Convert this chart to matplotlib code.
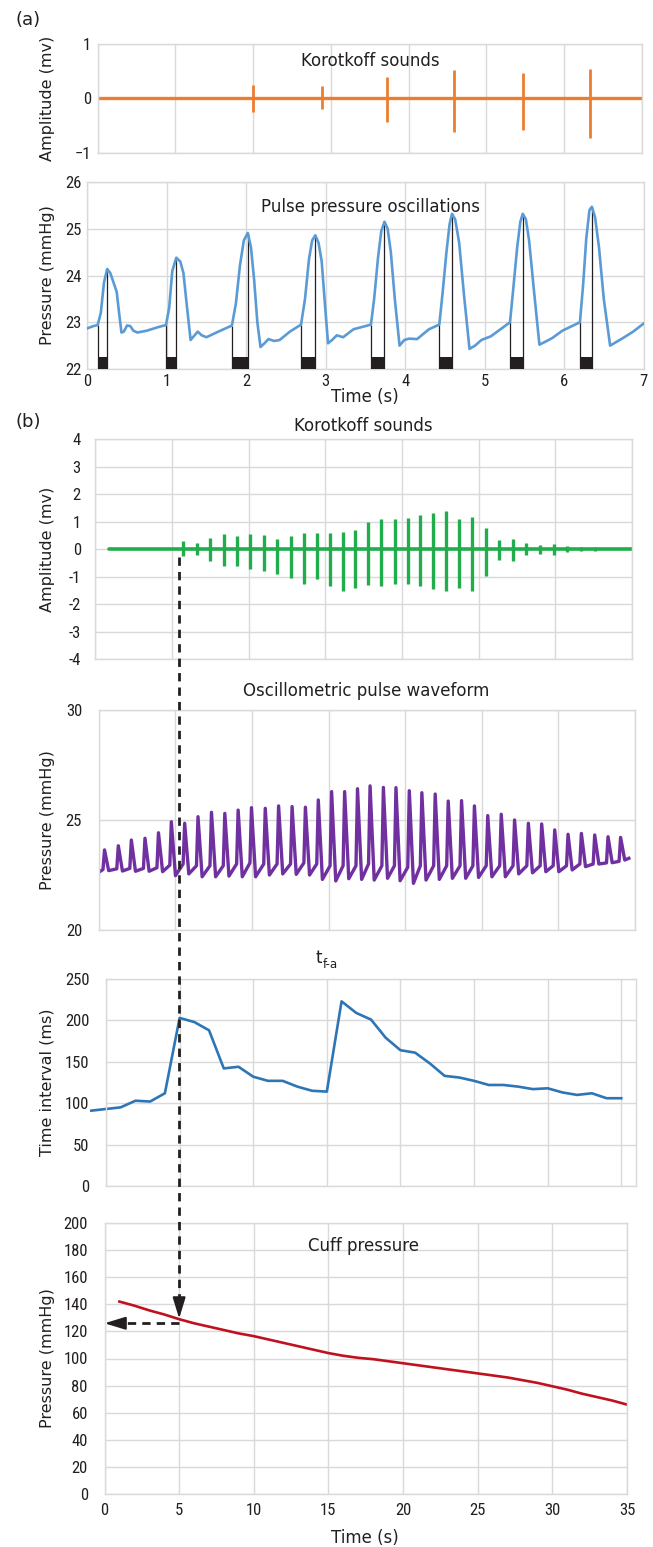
import matplotlib
matplotlib.use("Agg")
import matplotlib.pyplot as plt
from matplotlib import font_manager
from matplotlib.lines import Line2D

# ---------------- data ----------------
# (a) Korotkoff sounds, 0-7 s
a1_span = [0.0, 7.0]
a1_t = [2.00, 2.88, 3.72, 4.58, 5.47, 6.33]
a1_pos = [0.25, 0.23, 0.39, 0.53, 0.46, 0.54]
a1_neg = [-0.26, -0.20, -0.43, -0.62, -0.59, -0.73]

# (a) Pulse pressure oscillations
a2_t = [0.00, 0.08, 0.13, 0.17, 0.21, 0.25, 0.29, 0.33, 0.37, 0.40, 0.43, 0.46, 0.50, 0.54, 0.58, 0.63, 0.75, 0.90,
        0.99, 1.03, 1.07, 1.12, 1.17, 1.21, 1.25, 1.30, 1.34, 1.39, 1.44, 1.50, 1.65,
        1.82, 1.87, 1.92, 1.97, 2.02, 2.06, 2.10, 2.14, 2.18, 2.23, 2.28, 2.35, 2.42, 2.55,
        2.69, 2.74, 2.79, 2.83, 2.87, 2.91, 2.95, 2.99, 3.03, 3.08, 3.14, 3.22, 3.35,
        3.57, 3.61, 3.66, 3.70, 3.74, 3.78, 3.82, 3.87, 3.93, 3.99, 4.05, 4.15, 4.30,
        4.43, 4.47, 4.52, 4.56, 4.59, 4.63, 4.68, 4.74, 4.81, 4.88, 4.96, 5.08, 5.20,
        5.32, 5.36, 5.41, 5.45, 5.48, 5.52, 5.56, 5.62, 5.69, 5.76, 5.85, 5.98,
        6.20, 6.24, 6.28, 6.32, 6.35, 6.39, 6.44, 6.50, 6.58, 6.66, 6.74, 6.87, 7.00]
a2_p = [22.87, 22.92, 22.94, 23.20, 23.85, 24.14, 24.05, 23.85, 23.65, 23.20, 22.78, 22.80, 22.93, 22.92, 22.82, 22.78, 22.82, 22.90,
        22.94, 23.30, 24.10, 24.38, 24.30, 24.05, 23.40, 22.62, 22.70, 22.80, 22.72, 22.68, 22.80,
        22.93, 23.40, 24.20, 24.75, 24.91, 24.60, 23.90, 23.00, 22.47, 22.55, 22.64, 22.60, 22.62, 22.80,
        22.95, 23.50, 24.35, 24.75, 24.86, 24.70, 24.30, 23.40, 22.55, 22.62, 22.72, 22.68, 22.85,
        22.95, 23.50, 24.40, 24.95, 25.15, 25.00, 24.50, 23.50, 22.50, 22.62, 22.65, 22.64, 22.85,
        22.95, 23.60, 24.50, 25.10, 25.32, 25.20, 24.70, 23.60, 22.43, 22.50, 22.62, 22.70, 22.85,
        23.00, 23.70, 24.60, 25.15, 25.32, 25.20, 24.75, 23.70, 22.52, 22.58, 22.66, 22.82,
        23.00, 23.80, 24.80, 25.40, 25.47, 25.25, 24.60, 23.50, 22.50, 22.58, 22.66, 22.80, 22.97]
a2_foot_t = [0.13, 0.99, 1.82, 2.69, 3.57, 4.43, 5.32, 6.20]
a2_foot_p = [22.94, 22.94, 22.93, 22.95, 22.95, 22.95, 23.00, 23.00]
a2_peak_t = [0.25, 1.12, 2.02, 2.87, 3.74, 4.59, 5.48, 6.35]
a2_peak_p = [24.14, 24.38, 24.91, 24.86, 25.15, 25.32, 25.32, 25.47]

# (b) Korotkoff sounds, 0-35 s
b1_span = [0.9, 35.2]
b1_t = [5.71, 6.61, 7.49, 8.36, 9.23, 10.11, 10.98, 11.86, 12.76, 13.60, 14.45, 15.30, 16.12, 16.94,
        17.81, 18.63, 19.51, 20.36, 21.17, 22.05, 22.87, 23.74, 24.59, 25.46, 26.33, 27.24, 28.11,
        28.99, 29.89, 30.79, 31.66, 32.56]
b1_pos = [0.28, 0.23, 0.40, 0.54, 0.47, 0.54, 0.50, 0.37, 0.46, 0.58, 0.59, 0.59, 0.63, 0.70,
          0.99, 1.10, 1.08, 1.14, 1.22, 1.32, 1.39, 1.08, 1.17, 0.77, 0.34, 0.37, 0.23,
          0.16, 0.19, 0.12, 0.08, 0.08]
b1_neg = [-0.25, -0.20, -0.42, -0.63, -0.60, -0.74, -0.81, -0.90, -1.05, -1.26, -1.08, -1.34, -1.52, -1.40,
          -1.32, -1.34, -1.27, -1.28, -1.34, -1.44, -1.51, -1.40, -1.51, -0.99, -0.39, -0.45, -0.23,
          -0.17, -0.20, -0.10, -0.08, -0.08]

# (b) Oscillometric pulse waveform (per beat)
b2_span = [0.0, 34.6]
b2_span_p = [22.62, 23.26]
b2_peak_t = [0.38, 1.28, 2.13, 3.02, 3.90, 4.74, 5.61, 6.48, 7.36, 8.23, 9.10, 9.97, 10.87, 11.74,
             12.62, 13.49, 14.33, 15.20, 16.05, 16.89, 17.71, 18.58, 19.40, 20.27, 21.09, 21.96,
             22.81, 23.68, 24.52, 25.39, 26.27, 27.14, 28.04, 28.91, 29.76, 30.63, 31.50, 32.37,
             33.24, 34.06]
b2_peak = [23.64, 23.83, 24.09, 24.17, 24.42, 24.92, 24.85, 25.15, 25.35, 25.30, 25.45, 25.56, 25.53, 25.64,
           25.61, 25.58, 25.91, 26.29, 26.29, 26.42, 26.55, 26.48, 26.47, 26.33, 26.24, 26.18,
           25.86, 25.88, 25.64, 25.20, 25.26, 25.00, 24.85, 24.82, 24.55, 24.35, 24.39, 24.32,
           24.24, 24.21]
b2_foot = [22.75, 22.78, 22.80, 22.80, 22.83, 22.95, 23.00, 22.92, 22.92, 22.92, 23.00, 23.05, 23.00, 23.00,
           23.00, 23.05, 23.00, 22.92, 22.92, 22.92, 23.00, 22.92, 22.92, 22.85, 22.92, 22.92,
           22.92, 22.92, 22.92, 22.92, 22.92, 22.92, 22.92, 22.92, 22.92, 22.92, 23.00, 23.00,
           23.05, 23.12]
b2_trough = [22.70, 22.68, 22.67, 22.67, 22.65, 22.47, 22.55, 22.42, 22.42, 22.45, 22.42, 22.42, 22.50, 22.55,
             22.53, 22.50, 22.30, 22.23, 22.33, 22.30, 22.27, 22.35, 22.24, 22.12, 22.27, 22.30,
             22.35, 22.35, 22.39, 22.42, 22.42, 22.55, 22.60, 22.65, 22.65, 22.73, 22.88, 23.00,
             23.06, 23.18]

# (b) t_f-a
b3_t = [-1, 0, 1, 2, 3, 4, 5, 6, 7, 8, 9, 10, 11, 12, 13, 14, 15, 16, 17, 18, 19, 20,
        21, 22, 23, 24, 25, 26, 27, 28, 29, 30, 31, 32, 33, 34, 35]
b3_v = [91, 93, 95, 103, 102, 112, 203, 198, 188, 142, 144, 132, 127, 127, 120, 115, 114, 223, 209, 201, 179, 164,
        161, 148, 133, 131, 127, 122, 122, 120, 117, 118, 113, 110, 112, 106, 106]

# (b) Cuff pressure
b4_t = [1, 2, 3, 4, 5, 6, 7, 8, 9, 10, 11, 12, 13, 14, 15, 16, 17, 18, 19, 20,
        21, 22, 23, 24, 25, 26, 27, 28, 29, 30, 31, 32, 33, 34, 35]
b4_p = [142, 139, 135.5, 132.5, 129, 126, 123.5, 121, 118.5, 116.5, 114, 111.5, 109, 106.5, 104, 102, 100.5, 99.5, 98, 96.5,
        95, 93.5, 92, 90.5, 89, 87.5, 86, 84, 82, 79.5, 77, 74, 71.5, 69, 66]

# SBP read-off
sbp_t = 5
sbp_p = 129.5
sbp_read = 126

# ---------------- fonts ----------------
names = {f.name for f in font_manager.fontManager.ttflist}
narrow = None
for cand in ["Liberation Sans Narrow", "Roboto Condensed", "DejaVu Sans"]:
    if cand in names:
        narrow = cand
        break
plt.rcParams["font.family"] = [narrow, "DejaVu Sans"]
LABEL_FONT = ["DejaVu Sans"]

W, H = 653, 1547
fig = plt.figure(figsize=(W / 100, H / 100), dpi=100)
fig.patch.set_facecolor("white")

GRID = "#D9D9D9"
TXT = "#231F20"


def add_ax(l, t, r, b):
    return fig.add_axes([l / W, 1 - b / H, (r - l) / W, (b - t) / H])


def style(ax, xpad=4, ypad=4):
    for s in ax.spines.values():
        s.set_color(GRID)
        s.set_linewidth(1.0)
    ax.grid(True, color=GRID, lw=1.0)
    ax.set_axisbelow(True)
    ax.tick_params(axis="x", length=0, labelsize=12, colors=TXT, pad=xpad)
    ax.tick_params(axis="y", length=0, labelsize=12, colors=TXT, pad=ypad)


def ftext(x, y, s, **kw):
    kw.setdefault("ha", "center")
    kw.setdefault("va", "center")
    kw.setdefault("color", TXT)
    return fig.text(x / W, 1 - y / H, s, **kw)


def ylab(y, s):
    ftext(47.5, y, s, rotation=90, fontsize=11.5, family=LABEL_FONT)


# ---- (a) top: Korotkoff sounds ----
ax = add_ax(97.5, 44, 642, 152.7)
style(ax, ypad=4.5)
ax.set_xlim(0, 7)
ax.set_ylim(-1, 1)
ax.set_xticks(range(0, 8))
ax.set_xticklabels([])
ax.set_yticks([-1, 0, 1])
ax.set_yticklabels(["\u22121", "0", "1"])
ax.plot(a1_span, [0, 0], color="#ED7D31", lw=2.4, solid_capstyle="butt")
ax.vlines(a1_t, a1_neg, a1_pos, color="#ED7D31", lw=2.0)
ftext(370, 61, "Korotkoff sounds", fontsize=12, family=LABEL_FONT)
ylab(98, "Amplitude (mv)")

# ---- (a) bottom: pulse pressure ----
ax = add_ax(87.3, 182, 643.5, 369)
style(ax, xpad=3.5, ypad=4)
ax.set_xlim(0, 7)
ax.set_ylim(22, 26)
ax.set_xticks(range(0, 8))
ax.set_yticks([22, 23, 24, 25, 26])
widths = [p - f for p, f in zip(a2_peak_t, a2_foot_t)]
ax.bar(a2_foot_t, [0.25] * len(a2_foot_t), width=widths, bottom=22, align="edge",
       color="#231F20", zorder=3)
ax.vlines(a2_foot_t, 22, a2_foot_p, color="#231F20", lw=0.9, zorder=3)
ax.vlines(a2_peak_t, 22, a2_peak_p, color="#231F20", lw=0.9, zorder=3)
ax.plot(a2_t, a2_p, color="#5B9BD5", lw=1.9, zorder=4)
ftext(370, 207, "Pulse pressure oscillations", fontsize=12, family=LABEL_FONT)
ylab(275.5, "Pressure (mmHg)")
ftext(365, 397, "Time (s)", fontsize=12, family=LABEL_FONT)

ftext(28, 20, "(a)", fontsize=13, family=LABEL_FONT)
ftext(28, 421.7, "(b)", fontsize=13, family=LABEL_FONT)

# ---- (b) Korotkoff sounds ----
axb1 = add_ax(95.4, 439, 632, 659)
style(axb1, ypad=10.5)
axb1.set_xlim(0, 35)
axb1.set_ylim(-4, 4)
axb1.set_xticks(range(0, 36, 5))
axb1.set_xticklabels([])
axb1.set_yticks(range(-4, 5))
axb1.set_yticklabels([str(v) for v in range(-4, 5)])
axb1.plot(b1_span, [0, 0], color="#21AD4B", lw=2.6, solid_capstyle="round")
axb1.vlines(b1_t, b1_neg, b1_pos, color="#21AD4B", lw=2.4)
ftext(363, 426, "Korotkoff sounds", fontsize=12, family=LABEL_FONT)
ylab(549, "Amplitude (mv)")

# ---- (b) Oscillometric pulse waveform ----
ax = add_ax(98.7, 710, 635, 930)
style(ax, ypad=12)
ax.set_xlim(0, 35)
ax.set_ylim(20, 30)
ax.set_xticks(range(0, 36, 5))
ax.set_xticklabels([])
ax.set_yticks([20, 25, 30])
RISE, FALL = 0.10, 0.27
xs = [b2_span[0]]
ys = [b2_span_p[0]]
for t, f, p, tr in zip(b2_peak_t, b2_foot, b2_peak, b2_trough):
    xs += [t - RISE, t, t + FALL]
    ys += [f, p, tr]
xs.append(b2_span[1])
ys.append(b2_span_p[1])
ax.plot(xs, ys, color="#7030A0", lw=2.4, solid_joinstyle="round")
ftext(366.5, 691, "Oscillometric pulse waveform", fontsize=12, family=LABEL_FONT)
ylab(820, "Pressure (mmHg)")

# ---- (b) t_f-a ----
ax = add_ax(106, 979, 636, 1186)
style(ax, ypad=12)
ax.set_xlim(0, 36)
ax.set_ylim(0, 250)
ax.set_xticks(range(0, 36, 5))
ax.set_xticklabels([])
ax.set_yticks(range(0, 251, 50))
ax.plot(b3_t, b3_v, color="#2E75B6", lw=1.9, clip_on=False)
ftext(322.5, 963, "t", fontsize=12, family=LABEL_FONT, ha="right", va="baseline")
ftext(322.5, 968, "f-a", fontsize=8.5, family=LABEL_FONT, ha="left", va="baseline")
ylab(1082.5, "Time interval (ms)")

# ---- (b) Cuff pressure ----
axb4 = add_ax(104.5, 1223, 627, 1494)
style(axb4, xpad=6.5, ypad=12)
axb4.set_xlim(0, 35)
axb4.set_ylim(0, 200)
axb4.set_xticks(range(0, 36, 5))
axb4.set_yticks(range(0, 201, 20))
axb4.plot(b4_t, b4_p, color="#C0111F", lw=1.9)
ftext(364, 1246, "Cuff pressure", fontsize=12, family=LABEL_FONT)
ylab(1358.5, "Pressure (mmHg)")
ftext(365, 1538, "Time (s)", fontsize=12, family=LABEL_FONT)

# ---- dashed read-off arrows ----
DASH = (0, (3.0, 2.2))
inv = fig.transFigure.inverted()
head_len_units = 12.5
top_pt = inv.transform(axb1.transData.transform((0, -0.3)))
bot_pt = inv.transform(axb4.transData.transform((sbp_t, sbp_p + head_len_units)))
fig.add_artist(Line2D([bot_pt[0], bot_pt[0]], [top_pt[1], bot_pt[1]], transform=fig.transFigure,
                      color="#231F20", lw=2.0, linestyle=DASH, zorder=10))
axb4.annotate("", xy=(sbp_t, sbp_p), xytext=(sbp_t, sbp_p + head_len_units),
              arrowprops=dict(arrowstyle="-|>,head_length=0.85,head_width=0.26", color="#231F20",
                              lw=1.5, mutation_scale=15, shrinkA=0, shrinkB=0))
axb4.plot([sbp_t, 1.15], [sbp_read, sbp_read], color="#231F20", lw=2.0, linestyle=DASH)
axb4.annotate("", xy=(0, sbp_read), xytext=(1.15, sbp_read),
              arrowprops=dict(arrowstyle="-|>,head_length=0.85,head_width=0.26", color="#231F20",
                              lw=1.5, mutation_scale=15, shrinkA=0, shrinkB=0))

fig.savefig("out.png", dpi=100, facecolor="white")
